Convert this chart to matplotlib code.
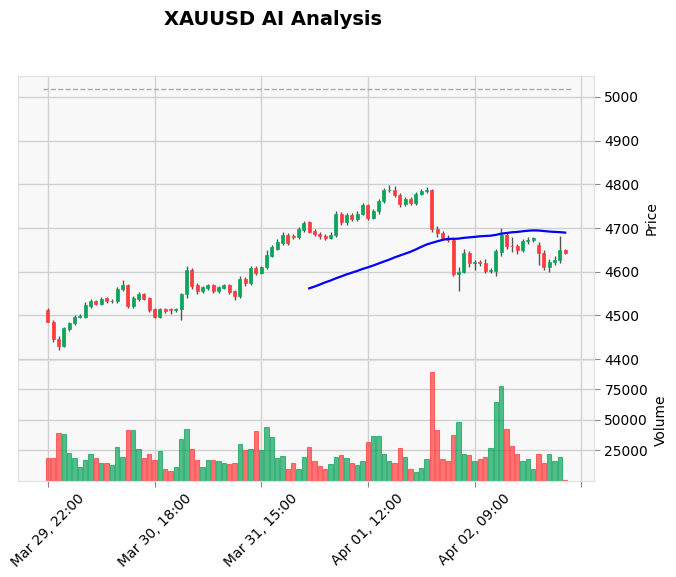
import numpy as np
import pandas as pd
import matplotlib
matplotlib.use("Agg")
import matplotlib.pyplot as plt

opens = [4513, 4484, 4447, 4431, 4468, 4482, 4496, 4497, 4522, 4532,
         4527, 4539, 4532, 4532, 4560, 4570, 4522, 4538, 4549, 4539,
         4514, 4497, 4514, 4514, 4512, 4514, 4548, 4605, 4569, 4556,
         4563, 4569, 4556, 4563, 4569, 4555, 4545, 4583, 4575, 4608,
         4598, 4610, 4637, 4653, 4666, 4684, 4682, 4680, 4696, 4713,
         4694, 4687, 4682, 4677, 4683, 4733, 4713, 4730, 4721, 4733,
         4753, 4724, 4738, 4761, 4786, 4788, 4776, 4754, 4766, 4757,
         4779, 4785, 4786, 4698, 4689, 4677, 4673, 4595, 4600, 4643,
         4621, 4621, 4621, 4602, 4602, 4645, 4683, 4660, 4658, 4649,
         4671, 4672, 4662, 4644, 4610, 4622, 4628, 4650]
closes = [4484, 4447, 4431, 4471, 4482, 4497, 4499, 4524, 4532, 4527,
          4538, 4532, 4533, 4561, 4570, 4522, 4540, 4549, 4538, 4513,
          4497, 4514, 4510, 4512, 4514, 4548, 4605, 4567, 4556, 4564,
          4569, 4556, 4564, 4569, 4554, 4545, 4583, 4575, 4608, 4598,
          4610, 4638, 4657, 4668, 4684, 4666, 4680, 4697, 4711, 4692,
          4686, 4681, 4677, 4685, 4733, 4713, 4730, 4721, 4733, 4753,
          4724, 4739, 4761, 4788, 4788, 4776, 4754, 4766, 4757, 4779,
          4785, 4786, 4698, 4689, 4677, 4673, 4595, 4600, 4643, 4621,
          4622, 4620, 4602, 4603, 4648, 4683, 4660, 4658, 4649, 4671,
          4673, 4677, 4644, 4610, 4622, 4628, 4650, 4644]
highs = [4516, 4489, 4452, 4474, 4486, 4500, 4503, 4530, 4537, 4535,
         4542, 4542, 4538, 4566, 4582, 4573, 4545, 4553, 4552, 4542,
         4517, 4518, 4517, 4517, 4518, 4552, 4612, 4608, 4574, 4568,
         4573, 4572, 4567, 4573, 4572, 4558, 4590, 4587, 4612, 4612,
         4614, 4650, 4662, 4675, 4690, 4688, 4686, 4702, 4716, 4716,
         4697, 4690, 4686, 4690, 4738, 4736, 4735, 4734, 4738, 4758,
         4756, 4743, 4766, 4792, 4798, 4797, 4780, 4770, 4770, 4783,
         4789, 4795, 4790, 4704, 4693, 4685, 4680, 4610, 4652, 4648,
         4628, 4628, 4630, 4608, 4652, 4700, 4688, 4680, 4664, 4676,
         4680, 4680, 4669, 4650, 4630, 4636, 4682, 4653]
lows = [4505, 4440, 4421, 4428, 4464, 4478, 4493, 4494, 4518, 4523,
        4524, 4528, 4529, 4528, 4556, 4518, 4518, 4534, 4535, 4508,
        4494, 4494, 4505, 4503, 4508, 4490, 4540, 4560, 4548, 4552,
        4558, 4551, 4552, 4560, 4548, 4535, 4540, 4568, 4570, 4592,
        4594, 4606, 4634, 4650, 4662, 4662, 4676, 4676, 4690, 4688,
        4682, 4676, 4672, 4674, 4679, 4707, 4708, 4716, 4717, 4729,
        4719, 4720, 4733, 4757, 4783, 4772, 4748, 4750, 4752, 4752,
        4775, 4781, 4690, 4680, 4675, 4668, 4590, 4555, 4597, 4610,
        4605, 4612, 4598, 4598, 4590, 4635, 4652, 4645, 4640, 4645,
        4664, 4668, 4615, 4603, 4600, 4616, 4620, 4640]
volumes = [18900, 18500, 39000, 38500, 23000, 19000, 11700, 17500, 22000, 19000,
           14500, 15000, 12800, 28000, 20000, 41500, 41500, 26000, 18500, 22000,
           17500, 24500, 9500, 8300, 11700, 34000, 42500, 26000, 17500, 11700,
           17500, 17500, 16000, 15000, 14000, 15000, 30000, 25000, 26500, 40800,
           25000, 44000, 36000, 19000, 20500, 10000, 15000, 10000, 20000, 27500,
           16000, 12000, 9700, 13800, 19700, 21000, 19000, 15000, 13300, 16000,
           32000, 37000, 37000, 22500, 16000, 15000, 26700, 20000, 9700, 7200,
           10500, 18000, 89000, 41500, 18000, 16400, 37500, 48000, 22500, 21000,
           16700, 18000, 20000, 26700, 65000, 77500, 42500, 28500, 22000, 16000,
           18000, 9700, 22000, 15000, 22000, 16000, 20000, 500]
tick_pos = [0, 20, 40, 60, 80, 100]
tick_labels = ["Mar 29, 22:00", "Mar 30, 18:00", "Mar 31, 15:00",
               "Apr 01, 12:00", "Apr 02, 09:00", ""]
target_level = 5018

up_c, dn_c = "#0aa55a", "#ff3b3b"
bg = "#f8f8f8"

n = len(closes)
x = np.arange(n)
ma = pd.Series(closes).rolling(50).mean()

fig = plt.figure(figsize=(6.76, 5.77), dpi=100)
ax = fig.add_axes([18/676, 1-360/577, 576/676, 284/577])
axv = fig.add_axes([18/676, 1-481/577, 576/676, 121/577], sharex=ax)

for a in (ax, axv):
    a.set_facecolor(bg)
    a.grid(True, color="#d0d0d0", linewidth=1)
    a.set_axisbelow(True)
    for s in a.spines.values():
        s.set_color("#e0e0e0")
    a.yaxis.tick_right()
    a.yaxis.set_label_position("right")
    a.tick_params(length=4, color="#888888")

for i in range(n):
    col = up_c if closes[i] >= opens[i] else dn_c
    ax.vlines(x[i], lows[i], highs[i], color="#555555", linewidth=1, zorder=2)
    lo, hi = sorted([opens[i], closes[i]])
    ax.bar(x[i], max(hi - lo, 1.2), bottom=lo, width=0.6, color=col,
           edgecolor=col, linewidth=0.5, zorder=3)
    axv.bar(x[i], volumes[i], width=0.85, color=col, alpha=0.7,
            edgecolor=col, linewidth=0.8)

ax.plot(x, ma, color="blue", linewidth=1.6, zorder=4)
ax.hlines(target_level, 0 - 1, n - 1 + 1, colors="#aaaaaa", linestyles="--", linewidth=1)

ax.set_xlim(-5.6, 102.4)
ax.set_ylim(4398, 5048)
ax.set_yticks([4400, 4500, 4600, 4700, 4800, 4900, 5000])
ax.set_ylabel("Price")
plt.setp(ax.get_xticklabels(), visible=False)

axv.set_ylim(0, 99000)
axv.set_yticks([25000, 50000, 75000])
axv.set_ylabel("Volume")
axv.set_xticks(tick_pos)
axv.set_xticklabels(tick_labels, rotation=45, ha="center")

fig.text(0.404, 0.967, "XAUUSD AI Analysis", ha="center", va="center",
         fontsize=14, fontweight="bold")
fig.savefig("out.png", dpi=100)
